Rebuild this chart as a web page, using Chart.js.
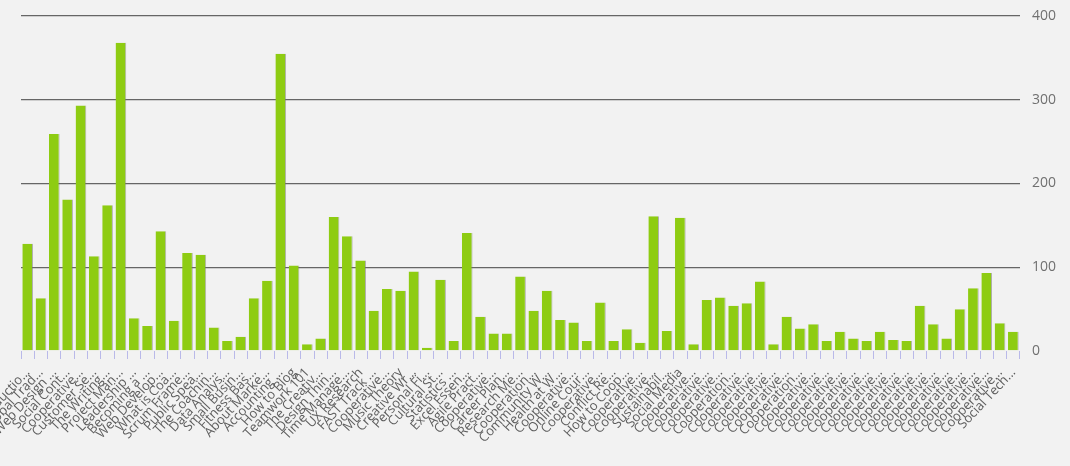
<!DOCTYPE html>
<html>
<head>
<meta charset="utf-8">
<script src="https://cdn.jsdelivr.net/npm/chart.js@4/dist/chart.umd.min.js"></script>
<style>
  html, body { margin: 0; padding: 0; background: #f2f2f2; }
  #wrap { width: 1070px; height: 466px; }
</style>
</head>
<body>
<div id="wrap"><canvas id="grafico"></canvas></div>
<script>
// nomes dos cursos (eixo x)
var cursos = [
  "Introduction to Teaching", "Global Trade Basics", "Web Design Intro", "Social Content", "Cooperative Learning",
  "Customer Service", "The Writing Lab", "Project Management", "Leadership Skills", "Becoming a Speaker",
  "Web Development", "What is Coaching", "Scrum Framework", "Public Speaking", "The Coaching Way",
  "Data Analysis", "Small Business", "Fitness Basics", "About Marketing", "Accounting Basics",
  "How to Blog", "Teamwork 101", "The Creative Mind", "Design Thinking", "Time Management",
  "UX Research", "FAST Track English", "Cooperative Models", "Music Theory", "Creative Writing",
  "Personal Finance", "Cultural Studies", "Statistics Intro", "Excel Essentials", "Agile Practices",
  "Cooperatives Today", "Career Planning", "Research Methods", "Cooperation Online", "Community Work",
  "Health at Work", "Cooperative Economy", "Online Courses", "Cooperative Rules", "Conflict Resolution",
  "How to Cooperate", "Cooperative Society", "Cooperative Guide", "Sustainability", "Social Media",
  "Cooperative Ethics", "Cooperative Finance", "Cooperative Law", "Cooperation Skills", "Cooperative Tools",
  "Cooperative Youth", "Cooperative Culture", "Cooperative Values", "Cooperation Case", "Cooperative Farms",
  "Cooperative Housing", "Cooperatives in EU", "Cooperative Banking", "Cooperative Policy", "Cooperative Media",
  "Cooperative Studies", "Cooperative Health", "Cooperative Energy", "Cooperative Schools", "Cooperative Design",
  "Cooperative Startups", "Cooperative Networks", "Cooperative Platforms", "Cooperative Services", "Social Technologies"
];

// inscritos por curso
var inscritos = [
  128, 63, 259, 181, 293, 113, 174, 368, 39, 30,
  143, 36, 117, 115, 28, 12, 17, 63, 84, 355,
  102, 8, 15, 160, 137, 108, 48, 74, 72, 95,
  4, 85, 12, 141, 41, 21, 21, 89, 48, 72,
  37, 34, 12, 58, 12, 26, 10, 161, 24, 159,
  8, 61, 64, 54, 57, 83, 8, 41, 27, 32,
  12, 23, 15, 12, 23, 13, 12, 54, 32, 15,
  50, 75, 93, 33, 23
];

var ticksY = [0, 100, 200, 300, 400];

function encurtar(texto) {
  if (texto.length > 12) {
    return texto.substring(0, 11) + "...";
  }
  return texto;
}

var graf = document.getElementById("grafico").getContext("2d");
var grafico = new Chart(graf, {
  type: "bar",
  data: {
    labels: cursos,
    datasets: [
      {
        label: "Inscritos",
        data: inscritos,
        backgroundColor: "rgb(142, 204, 18)",
        borderColor: "rgba(120, 120, 120, 0.55)",
        borderWidth: { top: 0, right: 1, bottom: 0, left: 0 },
        borderSkipped: false,
        barPercentage: 0.8,
        categoryPercentage: 1.0,
      },
    ],
  },
  options: {
    responsive: true,
    maintainAspectRatio: false,
    animation: false,
    plugins: {
      legend: { display: false },
      tooltip: { enabled: false },
    },
    layout: {
      padding: { left: 21, right: 0, top: 16, bottom: 0 },
    },
    scales: {
      x: {
        grid: {
          display: true,
          drawOnChartArea: false,
          drawTicks: true,
          tickLength: 8,
          offset: true,
          color: "rgba(170, 170, 230, 0.8)",
        },
        border: { display: false },
        ticks: {
          autoSkip: false,
          maxRotation: 47,
          minRotation: 47,
          padding: 6,
          color: "#5e5e5e",
          font: { family: "Open Sans", size: 13 },
          callback: function (valor, indice) {
            return encurtar(cursos[indice]);
          },
        },
        afterFit: function (escala) {
          escala.height = 115;
          escala.paddingLeft = 0;
          escala.paddingRight = 0;
        },
      },
      y: {
        position: "right",
        min: ticksY[0],
        max: ticksY[ticksY.length - 1],
        afterBuildTicks: function (escala) {
          escala.ticks = ticksY.map(function (v) { return { value: v }; });
        },
        grid: {
          drawTicks: false,
          lineWidth: 1.3,
          color: function (ctx) {
            return ctx.tick && ctx.tick.value === 0 ? "rgba(0,0,0,0)" : "#666666";
          },
        },
        border: { display: false },
        ticks: {
          padding: 12,
          color: "#707070",
          font: { family: "Open Sans", size: 14 },
        },
        afterFit: function (escala) {
          escala.width = 50;
          escala.paddingTop = 0;
          escala.paddingBottom = 0;
        },
      },
    },
  },
});
</script>
</body>
</html>
